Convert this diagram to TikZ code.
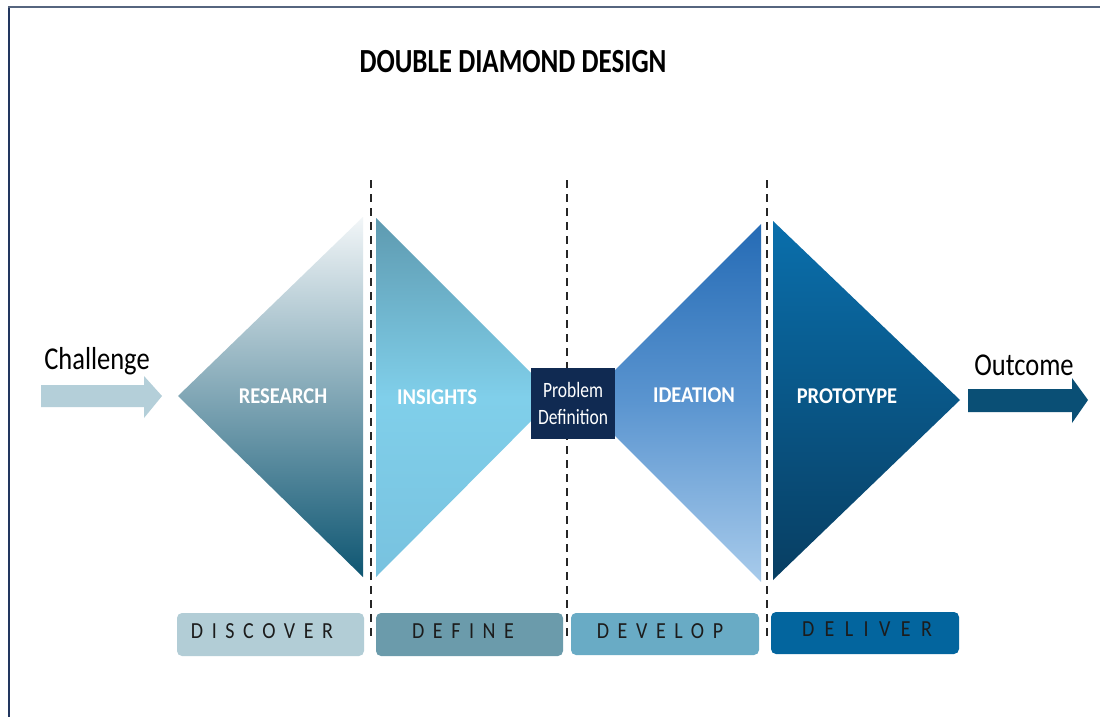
\documentclass[tikz,border=0pt]{standalone}
\usepackage{fontspec}
\setmainfont{Carlito}
\newfontfamily\spacedfont[LetterSpace=43]{Carlito}
\newfontfamily\widespacedfont[LetterSpace=52]{Carlito}
\definecolor{framenavy}{HTML}{22365F}
\definecolor{frametop}{HTML}{56657F}
\definecolor{resTop}{HTML}{F2F6F8}
\definecolor{resBot}{HTML}{0E5672}
\definecolor{insTop}{HTML}{5E9AB0}
\definecolor{insMid}{HTML}{80CFEA}
\definecolor{insBot}{HTML}{78C2DF}
\definecolor{ideTop}{HTML}{256BB5}
\definecolor{ideMid}{HTML}{5B95D0}
\definecolor{ideBot}{HTML}{A8CBEB}
\definecolor{proTop}{HTML}{0A6FAC}
\definecolor{proBot}{HTML}{083E62}
\definecolor{probBox}{HTML}{102A52}
\definecolor{challArrow}{HTML}{B4CFD9}
\definecolor{outArrow}{HTML}{0A4F75}
\definecolor{discoverC}{HTML}{B2CDD6}
\definecolor{defineC}{HTML}{6B9BAB}
\definecolor{developC}{HTML}{69ABC5}
\definecolor{deliverC}{HTML}{03659E}
\definecolor{labelText}{HTML}{1C1C1C}
\begin{document}
\begin{tikzpicture}[x=1pt,y=-1pt,
  phasebox/.style={rounded corners=5pt},
  phaselabel/.style={font=\spacedfont\fontsize{20}{24}\selectfont, text=labelText, yscale=1.15},
  trilabel/.style={font=\bfseries\fontsize{20.5}{24}\selectfont, text=white, yscale=1.1, anchor=base},
  divider/.style={line width=2pt, dash pattern=on 8pt off 6pt, black!85},
  bigtext/.style={font=\fontsize{26.5}{31}\selectfont, text=black, yscale=1.2, anchor=base}]
\useasboundingbox (0,0) rectangle (1100,717);
\fill[white] (0,0) rectangle (1100,717);
% frame
\draw[framenavy, line width=1.8pt] (9,7) -- (9,717);
\draw[frametop, line width=1.8pt] (8,7) -- (1100,7);
% title
\node[font=\bfseries\fontsize{27}{32}\selectfont, yscale=1.25, anchor=base] (title) at (513,72) {DOUBLE DIAMOND DESIGN};
% triangles
\shade[top color=resTop, bottom color=resBot] (178,396) -- (363,217) -- (363,577) -- cycle;
\shade[top color=insTop, bottom color=insBot, middle color=insMid] (376,218) -- (555,397) -- (376,577) -- cycle;
\shade[top color=ideTop, bottom color=ideBot, middle color=ideMid] (582,403) -- (761,224) -- (761,582) -- cycle;
\shade[top color=proTop, bottom color=proBot] (773,221) -- (960,400) -- (773,580) -- cycle;
% dividers
\draw[divider] (371,180) -- (371,640);
\draw[divider] (567,180) -- (567,640);
\draw[divider] (767,180) -- (767,640);
% triangle labels
\node[trilabel] (research) at (283,403) {RESEARCH};
\node[trilabel] (insights) at (437,404) {INSIGHTS};
\node[trilabel] (ideation) at (694,402) {IDEATION};
\node[trilabel] (prototype) at (847,403) {PROTOTYPE};
% problem definition
\node[fill=probBox, minimum width=84pt, minimum height=71pt, inner sep=0pt, text=white,
  font=\fontsize{17.5}{27}\selectfont, align=center] (problem) at (573,403.5) {\scalebox{1}[1.25]{Problem}\\\scalebox{1}[1.25]{Definition}};
% challenge arrow
\fill[challArrow] (41,385) -- (144,385) -- (144,376) -- (162,396) -- (144,418) -- (144,407) -- (41,407) -- cycle;
\node[bigtext] (challenge) at (97,369) {Challenge};
% outcome arrow
\fill[outArrow] (968,389) -- (1072,389) -- (1072,378) -- (1088,400) -- (1072,423) -- (1072,412) -- (968,412) -- cycle;
\node[bigtext] (outcome) at (1024,375) {Outcome};
% phase boxes
\fill[phasebox, discoverC] (177,613) rectangle (364,656);
\fill[phasebox, defineC] (376,613) rectangle (563,656);
\fill[phasebox, developC] (571,613) rectangle (759,655);
\fill[phasebox, deliverC] (771,612) rectangle (959,654);
\node[phaselabel] (discover) at (262,631) {DISCOVER};
\node[phaselabel] (define) at (463,631) {DEFINE};
\node[phaselabel] (develop) at (660,631) {DEVELOP};
\node[phaselabel, font=\widespacedfont\fontsize{20}{24}\selectfont] (deliver) at (867,629.5) {DELIVER};
\end{tikzpicture}
\end{document}
